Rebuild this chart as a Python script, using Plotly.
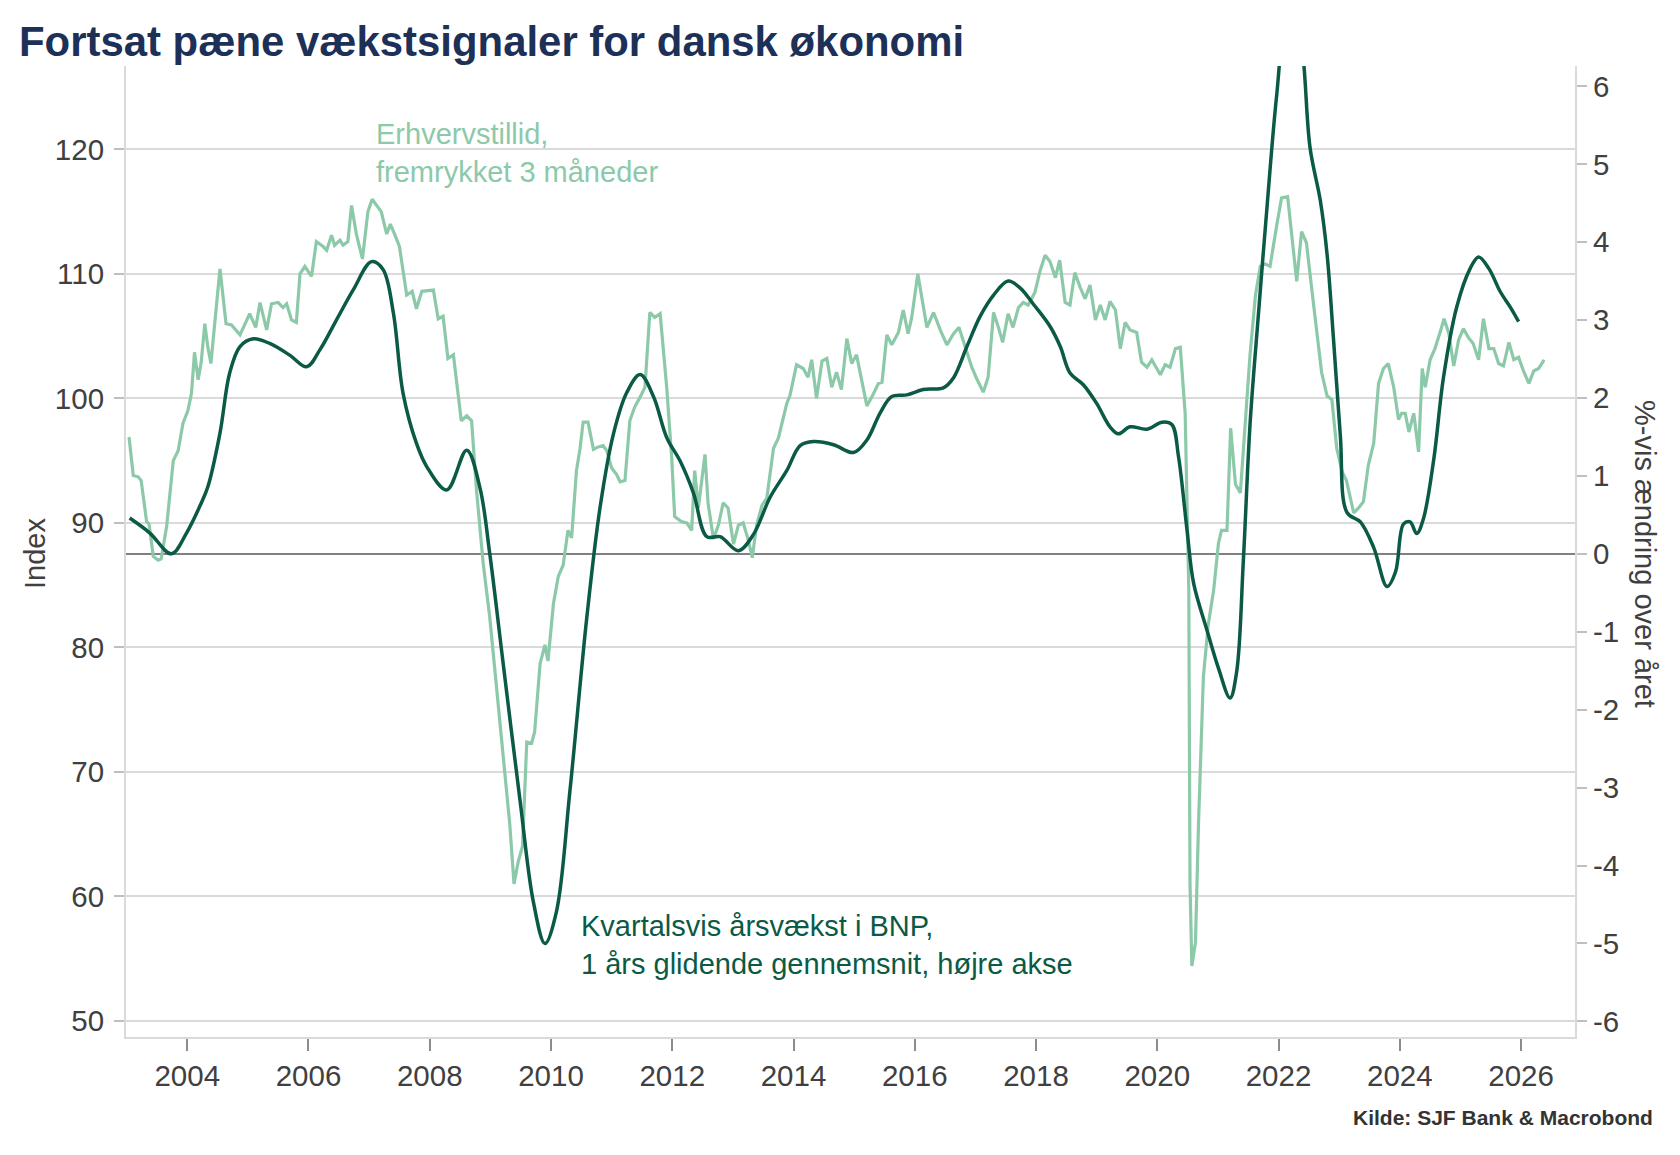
import plotly.graph_objects as go

# ---- Data ----
# Erhvervstillid (business confidence), shifted 3 months, left axis (index)
tillid_t = [2003.04, 2003.11, 2003.19, 2003.24, 2003.33, 2003.37, 2003.44, 2003.52, 2003.57, 2003.66,
            2003.77, 2003.85, 2003.93, 2004.01, 2004.07, 2004.12, 2004.18, 2004.23, 2004.29, 2004.34,
            2004.39, 2004.45, 2004.54, 2004.64, 2004.73, 2004.87, 2004.95, 2005.03, 2005.13, 2005.20,
            2005.31, 2005.39, 2005.50, 2005.58, 2005.64, 2005.72, 2005.80, 2005.86, 2005.94, 2006.05,
            2006.13, 2006.24, 2006.30, 2006.38, 2006.43, 2006.52, 2006.57, 2006.65, 2006.71, 2006.79,
            2006.89, 2006.98, 2007.05, 2007.12, 2007.20, 2007.29, 2007.35, 2007.42, 2007.50, 2007.62,
            2007.71, 2007.78, 2007.87, 2008.06, 2008.14, 2008.22, 2008.30, 2008.39, 2008.44, 2008.52,
            2008.61, 2008.69, 2008.77, 2008.88, 2008.99, 2009.10, 2009.21, 2009.32, 2009.39, 2009.46,
            2009.53, 2009.60, 2009.68, 2009.73, 2009.82, 2009.90, 2009.95, 2010.04, 2010.12, 2010.20,
            2010.28, 2010.34, 2010.42, 2010.48, 2010.53, 2010.61, 2010.70, 2010.78, 2010.86, 2010.92,
            2011.00, 2011.08, 2011.14, 2011.22, 2011.30, 2011.38, 2011.47, 2011.55, 2011.63, 2011.71,
            2011.80, 2011.91, 2011.99, 2012.04, 2012.15, 2012.24, 2012.32, 2012.37, 2012.43, 2012.48,
            2012.54, 2012.59, 2012.68, 2012.76, 2012.84, 2012.92, 2013.01, 2013.09, 2013.17, 2013.25,
            2013.32, 2013.39, 2013.48, 2013.56, 2013.67, 2013.75, 2013.89, 2013.94, 2014.05, 2014.16,
            2014.24, 2014.30, 2014.38, 2014.47, 2014.55, 2014.63, 2014.71, 2014.79, 2014.88, 2014.96,
            2015.04, 2015.21, 2015.29, 2015.40, 2015.46, 2015.54, 2015.62, 2015.73, 2015.81, 2015.89,
            2015.95, 2016.05, 2016.12, 2016.20, 2016.31, 2016.42, 2016.53, 2016.64, 2016.73, 2016.83,
            2016.94, 2017.02, 2017.13, 2017.21, 2017.30, 2017.38, 2017.45, 2017.54, 2017.62, 2017.71,
            2017.79, 2017.87, 2017.98, 2018.07, 2018.15, 2018.23, 2018.32, 2018.39, 2018.48, 2018.56,
            2018.64, 2018.73, 2018.81, 2018.89, 2018.98, 2019.06, 2019.14, 2019.22, 2019.31, 2019.39,
            2019.47, 2019.55, 2019.66, 2019.74, 2019.83, 2019.91, 2020.05, 2020.13, 2020.21, 2020.30,
            2020.38, 2020.46, 2020.52, 2020.54, 2020.57, 2020.63, 2020.68, 2020.76, 2020.84, 2020.93,
            2021.01, 2021.06, 2021.15, 2021.21, 2021.29, 2021.37, 2021.45, 2021.53, 2021.62, 2021.70,
            2021.78, 2021.86, 2021.97, 2022.05, 2022.15, 2022.22, 2022.30, 2022.38, 2022.46, 2022.55,
            2022.63, 2022.71, 2022.80, 2022.88, 2022.96, 2023.05, 2023.12, 2023.17, 2023.24, 2023.32,
            2023.40, 2023.48, 2023.57, 2023.65, 2023.73, 2023.81, 2023.90, 2023.98, 2024.03, 2024.09,
            2024.15, 2024.23, 2024.31, 2024.37, 2024.42, 2024.50, 2024.58, 2024.67, 2024.73, 2024.81,
            2024.89, 2024.97, 2025.05, 2025.13, 2025.21, 2025.30, 2025.38, 2025.47, 2025.55, 2025.63,
            2025.71, 2025.80, 2025.88, 2025.96, 2026.04, 2026.13, 2026.21, 2026.29, 2026.38]
tillid_v = [96.9, 93.8, 93.7, 93.4, 90.1, 89.9, 87.3, 87.0, 87.1, 89.7,
            95.0, 95.8, 98.0, 99.0, 100.4, 103.7, 101.5, 102.9, 106.0, 104.1,
            102.8, 105.7, 110.4, 106.0, 105.9, 105.1, 105.9, 106.8, 105.7, 107.7,
            105.5, 107.6, 107.7, 107.3, 107.6, 106.3, 106.1, 110.0, 110.6, 109.8,
            112.6, 112.2, 111.9, 113.1, 112.3, 112.7, 112.3, 112.6, 115.5, 113.2,
            111.2, 115.0, 116.0, 115.5, 115.0, 113.2, 114.0, 113.2, 112.2, 108.3,
            108.6, 107.2, 108.6, 108.7, 106.4, 106.6, 103.2, 103.5, 101.6, 98.2,
            98.6, 98.2, 92.7, 86.8, 82.4, 76.9, 71.3, 65.8, 61.0, 62.8,
            64.0, 72.4, 72.3, 73.2, 78.7, 80.2, 78.9, 83.5, 85.7, 86.6,
            89.4, 88.8, 94.2, 96.0, 98.1, 98.1, 95.9, 96.1, 96.2, 95.8,
            94.4, 93.9, 93.3, 93.4, 98.2, 99.3, 100.1, 100.9, 106.9, 106.5,
            106.8, 100.8, 95.3, 90.5, 90.1, 90.0, 89.4, 94.2, 91.2, 93.0,
            95.5, 91.6, 88.7, 89.8, 91.6, 91.2, 88.3, 89.8, 90.0, 88.7,
            87.2, 89.8, 91.4, 92.0, 96.0, 96.8, 99.6, 100.2, 102.7, 102.4,
            101.7, 103.1, 100.0, 103.0, 103.2, 100.9, 102.1, 100.7, 104.8, 102.8,
            103.5, 99.4, 100.1, 101.2, 101.3, 105.1, 104.3, 105.3, 107.1, 105.2,
            106.5, 110.0, 108.1, 105.7, 106.9, 105.5, 104.3, 105.2, 105.7, 104.1,
            102.5, 101.6, 100.5, 101.7, 106.9, 105.7, 104.5, 106.8, 105.7, 107.3,
            107.7, 107.5, 108.5, 110.3, 111.5, 111.0, 109.7, 111.1, 107.7, 107.5,
            110.1, 108.9, 108.0, 109.1, 106.3, 107.5, 106.3, 107.8, 107.1, 104.0,
            106.1, 105.5, 105.3, 102.9, 102.5, 103.1, 101.9, 102.7, 102.5, 104.0,
            104.1, 98.8, 84.6, 61.0, 54.4, 56.3, 65.8, 77.6, 81.8, 84.6,
            88.4, 89.4, 89.4, 97.6, 93.1, 92.4, 98.3, 103.5, 108.3, 110.6,
            110.8, 110.6, 113.9, 116.1, 116.2, 113.0, 109.4, 113.4, 112.5, 108.7,
            105.4, 102.1, 100.2, 99.9, 96.0, 94.1, 93.4, 92.2, 90.8, 91.2,
            91.7, 94.6, 96.4, 101.2, 102.4, 102.8, 100.9, 98.3, 98.8, 98.8,
            97.3, 98.8, 95.7, 102.4, 100.9, 103.1, 104.0, 105.4, 106.4, 105.2,
            102.6, 104.7, 105.6, 104.9, 104.4, 103.1, 106.4, 104.0, 104.0, 102.8,
            102.6, 104.5, 103.1, 103.3, 102.2, 101.2, 102.2, 102.4, 103.1]

# Kvartalsvis årsvækst i BNP, 1 års glidende gennemsnit (right axis, %)
bnp_t = [2003.05, 2003.38, 2003.74, 2003.99, 2004.23, 2004.34, 2004.54, 2004.70, 2004.87, 2005.09,
         2005.36, 2005.69, 2005.97, 2006.19, 2006.46, 2006.74, 2007.04, 2007.23, 2007.40, 2007.56,
         2007.78, 2007.95, 2008.28, 2008.61, 2008.83, 2008.99, 2009.21, 2009.49, 2009.71, 2009.90,
         2010.09, 2010.31, 2010.59, 2010.81, 2011.03, 2011.25, 2011.47, 2011.69, 2011.91, 2012.13,
         2012.35, 2012.57, 2012.79, 2013.09, 2013.34, 2013.61, 2013.89, 2014.11, 2014.33, 2014.66,
         2014.99, 2015.21, 2015.43, 2015.62, 2015.87, 2016.14, 2016.47, 2016.64, 2016.86, 2017.08,
         2017.30, 2017.54, 2017.74, 2017.96, 2018.23, 2018.40, 2018.56, 2018.78, 2019.00, 2019.22,
         2019.36, 2019.55, 2019.83, 2020.08, 2020.24, 2020.35, 2020.49, 2020.60, 2020.82, 2021.01,
         2021.20, 2021.31, 2021.42, 2021.53, 2021.67, 2021.81, 2021.97, 2022.15, 2022.28, 2022.41,
         2022.52, 2022.69, 2022.80, 2022.91, 2023.02, 2023.13, 2023.35, 2023.57, 2023.79, 2023.93,
         2024.06, 2024.17, 2024.28, 2024.39, 2024.56, 2024.72, 2024.94, 2025.16, 2025.30, 2025.47,
         2025.66, 2025.82, 2025.96]
bnp_v = [0.46, 0.27, 0.00, 0.27, 0.65, 0.86, 1.55, 2.32, 2.66, 2.76,
         2.70, 2.55, 2.40, 2.62, 3.00, 3.39, 3.75, 3.65, 3.09, 2.06,
         1.42, 1.12, 0.82, 1.33, 0.84, 0.00, -1.40, -3.17, -4.47, -5.00,
         -4.59, -3.06, -0.82, 0.60, 1.54, 2.07, 2.30, 2.02, 1.49, 1.19,
         0.78, 0.22, 0.22, 0.04, 0.25, 0.72, 1.07, 1.39, 1.44, 1.40,
         1.30, 1.46, 1.81, 2.02, 2.04, 2.11, 2.13, 2.26, 2.66, 3.05,
         3.32, 3.50, 3.41, 3.20, 2.92, 2.66, 2.32, 2.17, 1.93, 1.63,
         1.54, 1.63, 1.60, 1.69, 1.66, 1.25, 0.31, -0.38, -0.98, -1.47,
         -1.85, -1.51, -0.08, 1.66, 3.09, 4.45, 5.89, 7.00, 7.10, 6.34,
         5.21, 4.53, 3.85, 2.72, 1.51, 0.53, 0.41, 0.08, -0.42, -0.23,
         0.38, 0.41, 0.26, 0.45, 1.21, 2.26, 3.17, 3.66, 3.81, 3.66,
         3.36, 3.17, 2.98]

year_ticks = [2004, 2006, 2008, 2010, 2012, 2014, 2016, 2018, 2020, 2022, 2024, 2026]
left_ticks = [50, 60, 70, 80, 90, 100, 110, 120]
right_ticks = [-6, -5, -4, -3, -2, -1, 0, 1, 2, 3, 4, 5, 6]
right_ticktext = [str(v) for v in right_ticks]

LIGHT = "#8cc9a9"
DARK = "#0b5a45"
FONT = "Liberation Sans, Arial, sans-serif"
GRID = "#dadada"
TXT = "#404040"

fig = go.Figure()
fig.add_trace(go.Scatter(x=tillid_t, y=tillid_v, mode="lines", yaxis="y",
                         line=dict(color=LIGHT, width=3.2), showlegend=False, name="Erhvervstillid"))
fig.add_trace(go.Scatter(x=bnp_t, y=bnp_v, mode="lines", yaxis="y2",
                         line=dict(color=DARK, width=3.5, shape="spline", smoothing=1.0),
                         showlegend=False, name="BNP"))

fig.update_layout(
    width=1680, height=1155, autosize=False,
    margin=dict(l=126, r=105, t=66, b=118),
    paper_bgcolor="white", plot_bgcolor="white",
    font=dict(family=FONT, color=TXT),
    title=dict(text="<b>Fortsat pæne vækstsignaler for dansk økonomi</b>",
               x=0.0113, xref="container", xanchor="left",
               y=0.9645, yref="container", yanchor="middle",
               font=dict(size=41.9, color="#1d3057", family=FONT)),
    xaxis=dict(range=[2002.99, 2026.89], tickvals=year_ticks, ticktext=[str(y) for y in year_ticks],
               ticks="outside", ticklen=12, tickwidth=1.5, tickcolor="#8c8c8c",
               showline=True, linecolor=GRID, linewidth=2, showgrid=False, zeroline=False,
               tickfont=dict(size=29.5, color=TXT, family=FONT)),
    yaxis=dict(range=[48.7, 126.7], tickvals=left_ticks, ticks="outside", ticklen=10,
               tickwidth=1.5, tickcolor="#bfbfbf", showline=True, linecolor=GRID, linewidth=2,
               showgrid=True, gridcolor=GRID, gridwidth=1.5, zeroline=False,
               ticklabelstandoff=4,
               tickfont=dict(size=29.5, color=TXT, family=FONT)),
    yaxis2=dict(range=[-6.2, 6.26], tickvals=right_ticks, ticktext=right_ticktext,
                overlaying="y", side="right", ticks="outside", ticklen=10, tickwidth=1.5,
                tickcolor="#bfbfbf", showline=True, linecolor=GRID, linewidth=2,
                showgrid=False, zeroline=True, zerolinecolor="#808080", zerolinewidth=1.5,
                tickfont=dict(size=29.5, color=TXT, family=FONT)),
    annotations=[
        dict(text="Index", xref="paper", yref="paper", x=-0.0628, y=0.4974, textangle=-90,
             showarrow=False, xanchor="center", yanchor="middle",
             font=dict(size=29, color=TXT, family=FONT)),
        dict(text="%-vis ændring over året", xref="paper", yref="paper", x=1.0483, y=0.4974,
             textangle=90, showarrow=False, xanchor="center", yanchor="middle",
             font=dict(size=29, color=TXT, family=FONT)),
        dict(text="Erhvervstillid,<br>fremrykket 3 måneder", xref="x", yref="y",
             x=2007.08, y=119.7, showarrow=False, xanchor="left", yanchor="middle", align="left",
             font=dict(size=29, color=LIGHT, family=FONT)),
        dict(text="Kvartalsvis årsvækst i BNP,<br>1 års glidende gennemsnit, højre akse",
             xref="x", yref="y", x=2010.47, y=56.1, showarrow=False, xanchor="left",
             yanchor="middle", align="left", font=dict(size=29, color=DARK, family=FONT)),
        dict(text="<b>Kilde: SJF Bank & Macrobond</b>", xref="paper", yref="paper",
             x=1.0552, y=-0.0824, showarrow=False, xanchor="right", yanchor="middle",
             font=dict(size=21, color="#333333", family=FONT)),
    ],
)

fig.write_html("out.html")
